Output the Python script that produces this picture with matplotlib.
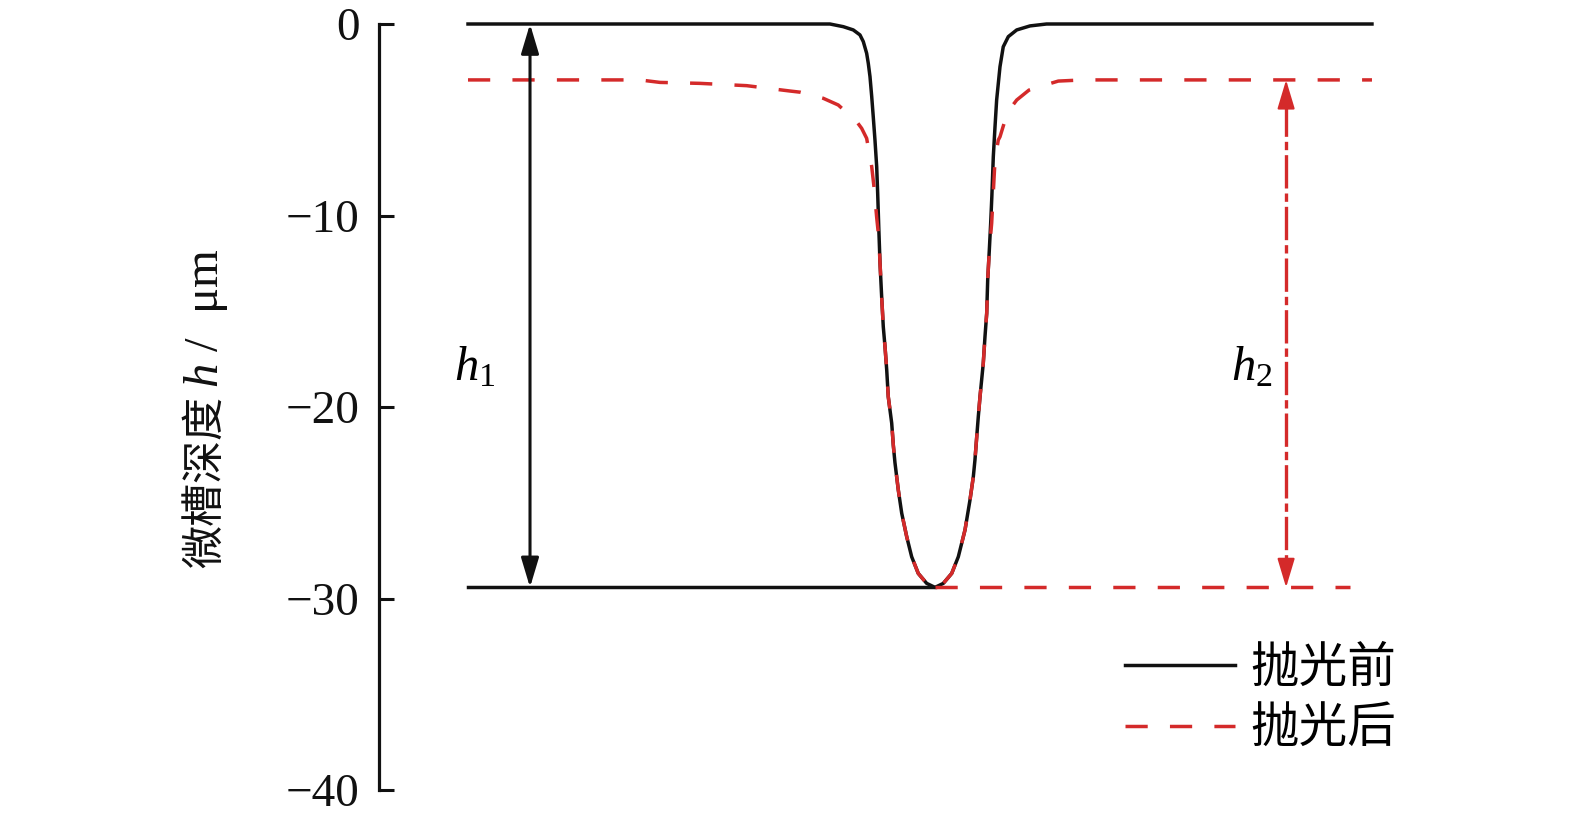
import numpy as np
import matplotlib.pyplot as plt

plt.rcParams['font.family'] = ['Liberation Serif', 'Noto Sans CJK SC']
plt.rcParams['mathtext.fontset'] = 'custom'
plt.rcParams['mathtext.rm'] = 'Liberation Serif'
plt.rcParams['mathtext.it'] = 'Liberation Serif:italic'
plt.rcParams['axes.unicode_minus'] = True

# profile before polishing (x arbitrary units, depth in um)
x_before = [0, 40.04, 41.52, 42.62, 43.36, 43.73, 44.10, 44.28, 44.47, 44.66, 44.83,
            45.02, 45.21, 45.32, 45.45, 45.58, 45.76, 45.94, 46.13, 46.32, 46.49, 46.87,
            47.05, 47.23, 47.6, 47.98, 48.53, 49.08, 49.81, 50.74, 51.66, 52.58, 53.51,
            54.24, 54.98, 55.53, 55.9, 56.08, 56.27, 56.45, 56.64, 56.82, 57.0, 57.19,
            57.38, 57.49, 57.67, 57.82, 57.95, 58.11, 58.3, 58.48, 58.85, 59.21, 59.77,
            60.7, 62.17, 64.0, 100]
y_before = [0, 0, -0.14, -0.31, -0.57, -0.92, -1.53, -2.05, -2.75, -3.79, -4.84,
            -6.06, -7.45, -8.84, -10.76, -12.5, -14.24, -15.81, -16.85, -18.07, -19.46, -20.84,
            -22.0, -22.9, -24.33, -25.55, -26.77, -27.82, -28.69, -29.21, -29.42, -29.21, -28.69,
            -27.82, -26.42, -24.86, -23.64, -22.77, -21.6, -20.51, -19.46, -18.59, -17.72, -16.33,
            -15.11, -13.37, -11.8, -10.4, -9.0, -6.93, -5.36, -3.97, -2.23, -1.19, -0.66,
            -0.31, -0.1, 0, 0]

# profile after polishing
x_after = [0, 19.0, 21.24, 25.66, 30.83, 35.62, 36.73, 39.3, 40.96, 43.0, 43.55, 44.1,
           44.66, 44.91, 45.21, 45.45, 45.58, 45.76, 45.94, 46.13, 46.32, 46.49, 46.87,
           47.05, 47.23, 47.6, 47.98, 48.53, 49.08, 49.81, 50.74, 51.66, 52.58, 53.51,
           54.24, 54.98, 55.53, 55.9, 56.08, 56.27, 56.45, 56.64, 56.82, 57.0, 57.19,
           57.38, 57.49, 57.67, 57.93, 58.3, 58.66, 58.85, 59.59, 60.14, 60.7, 62.06,
           63.46, 65.3, 68.06, 100]
y_after = [-2.92, -2.92, -3.05, -3.1, -3.22, -3.5, -3.56, -3.88, -4.23, -5.1, -5.45, -5.97,
           -7.45, -8.5, -10.1, -11.2, -12.5, -14.24, -15.81, -16.85, -18.07, -19.46, -20.84,
           -22.0, -22.9, -24.33, -25.55, -26.77, -27.82, -28.69, -29.21, -29.42, -29.21, -28.69,
           -27.82, -26.42, -24.86, -23.64, -22.77, -21.6, -20.51, -19.46, -18.59, -17.72, -16.33,
           -15.11, -13.37, -11.8, -10.4, -7.1, -6.06, -5.89, -4.75, -4.32, -3.97, -3.45,
           -3.24, -2.98, -2.92, -2.92]

bottom_depth = -29.42
x_min_point = 51.66
x_start, x_end_red = 0, 97.6
h1_x, h2_x = 6.86, 90.5
top_after = -2.92

black = '#111111'
red = '#d42a2a'
lw = 2.5

fig = plt.figure(figsize=(15.75, 8.22), dpi=100)
ax = fig.add_axes([379 / 1575, 32 / 822, 1021 / 1575, 766 / 822])

l1, = ax.plot(x_before, y_before, color=black, lw=lw, clip_on=False, label='抛光前')
l2, = ax.plot(x_after, y_after, color=red, lw=lw, dashes=(6.4, 6.4), clip_on=False, label='抛光后')
ax.plot([x_start, x_min_point], [bottom_depth, bottom_depth], color=black, lw=lw, clip_on=False)
ax.plot([x_min_point, x_end_red], [bottom_depth, bottom_depth], color=red, lw=lw,
        dashes=(6.4, 6.4), clip_on=False)

# h1 arrow
ax.annotate('', xy=(h1_x, 0), xytext=(h1_x, bottom_depth),
            arrowprops=dict(arrowstyle='<|-|>, head_length=0.9, head_width=0.27',
                            mutation_scale=20, color=black, lw=2.2,
                            shrinkA=0, shrinkB=0))
ax.text(h1_x - 6.1, -17.96, '$h_1$', fontsize=35, ha='center', va='center')

# h2 arrow (dash-dot)
ax.plot([h2_x, h2_x], [top_after - 1.2, bottom_depth + 1.2], color=red, lw=2.4,
        dashes=(10, 1.5, 2.5, 1.5))
for tip, sgn in [(top_after, -1), (bottom_depth, 1)]:
    ax.annotate('', xy=(h2_x, tip), xytext=(h2_x, tip + sgn * 1.3),
                arrowprops=dict(arrowstyle='-|>, head_length=0.9, head_width=0.27',
                                mutation_scale=20, color=red, lw=1.5,
                                shrinkA=0, shrinkB=0))
ax.text(h2_x - 3.85, -17.96, '$h_2$', fontsize=35, ha='center', va='center')

ax.set_xlim(-9.845, 103.1)
ax.set_ylim(-40, 0)
ax.set_yticks([0, -10, -20, -30, -40])
ax.set_xticks([])
for s in ['top', 'right', 'bottom']:
    ax.spines[s].set_visible(False)
ax.spines['left'].set_linewidth(2.3)
ax.spines['left'].set_color(black)
ax.tick_params(axis='y', direction='in', length=11, width=2.2, pad=14,
               labelsize=34, colors=black)

# y label: Chinese part + italic symbol part
fig.text(206 / 1575, (822 - 568) / 822, '微槽深度', rotation=90, ha='center', va='bottom',
         fontsize=31, family='Noto Sans CJK SC', color=black)
fig.text(206 / 1575, (822 - 388) / 822, '$h$ /  μm', rotation=90, ha='center', va='bottom',
         fontsize=35, color=black)

ax.legend(handles=[l1, l2], loc='center left', bbox_to_anchor=(0.731, 0.118),
          frameon=False, fontsize=35, handlelength=2.26, handletextpad=0.31,
          labelspacing=0.32, borderpad=0, borderaxespad=0)

fig.savefig('out.png', dpi=100)
